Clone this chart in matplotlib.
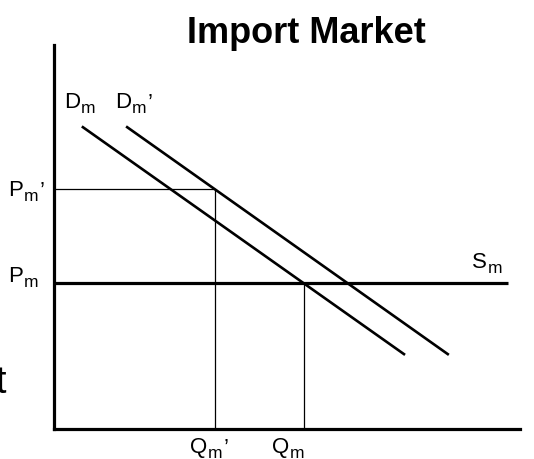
import matplotlib
matplotlib.use("Agg")
import matplotlib.pyplot as plt

plt.rcParams['font.family'] = ['Liberation Sans', 'DejaVu Sans']

# ---- data (schematic units: quantity 0-10, price 0-10) ----
price_pm = 3.80
price_pm_prime = 6.25
qty_qm = 5.36
qty_qm_prime = 3.45
supply_x = [0.0, 9.74]
demand_x = [0.62, 7.51]
demand_y = [7.86, 1.95]
demand_prime_x = [1.57, 8.45]
demand_prime_y = [7.86, 1.95]

W, H = 534, 459
fig = plt.figure(figsize=(W / 100, H / 100), dpi=100)
ax = fig.add_axes([54 / W, (H - 429) / H, 466 / W, 384 / H])
ax.set_xlim(0, 10)
ax.set_ylim(0, 10)
for s in ['top', 'right']:
    ax.spines[s].set_visible(False)
for s in ['left', 'bottom']:
    ax.spines[s].set_linewidth(2.3)
    ax.spines[s].set_color('black')
ax.set_xticks([])
ax.set_yticks([])

# thin guide lines
ax.plot([0, qty_qm_prime], [price_pm_prime, price_pm_prime], color='black', lw=0.9, solid_capstyle='butt')
ax.plot([qty_qm_prime, qty_qm_prime], [0, price_pm_prime], color='black', lw=0.9, solid_capstyle='butt')
ax.plot([qty_qm, qty_qm], [0, price_pm], color='black', lw=0.9, solid_capstyle='butt')

# supply (horizontal) and demand curves
ax.plot(supply_x, [price_pm, price_pm], color='black', lw=2.3, solid_capstyle='butt')
ax.plot(demand_x, demand_y, color='black', lw=1.9)
ax.plot(demand_prime_x, demand_prime_y, color='black', lw=1.9)


def px(x, y):
    return x / W, 1 - y / H


fs_main = 16
fs_sub = 12.5
labels = [
    (64, 108, 'D', False),
    (115, 108, 'D', True),
    (8, 196, 'P', True),
    (8, 282, 'P', False),
    (472, 268, 'S', False),
    (190, 453, 'Q', True),
    (272, 453, 'Q', False),
]
for x, y, letter, prime in labels:
    main = fig.text(*px(x, y), letter, fontsize=fs_main, ha='left', va='baseline')
    sub = ax.annotate('m', xy=(1, 0), xycoords=main, xytext=(0.5, 0.0),
                      textcoords='offset pixels', fontsize=fs_sub,
                      ha='left', va='baseline', annotation_clip=False)
    if prime:
        ax.annotate('’', xy=(1, 1), xycoords=(sub, main), xytext=(1.5, -1),
                    textcoords='offset pixels', fontsize=fs_main,
                    ha='left', va='top', annotation_clip=False)

fig.text(*px(306, 43), 'Import Market', fontsize=26, fontweight='bold',
         ha='center', va='baseline')

# fragment of neighbouring text, cut by the left edge as in the reference
fig.text(*px(6, 393), 't', fontsize=27, ha='right', va='baseline')

fig.savefig('out.png', dpi=100)
